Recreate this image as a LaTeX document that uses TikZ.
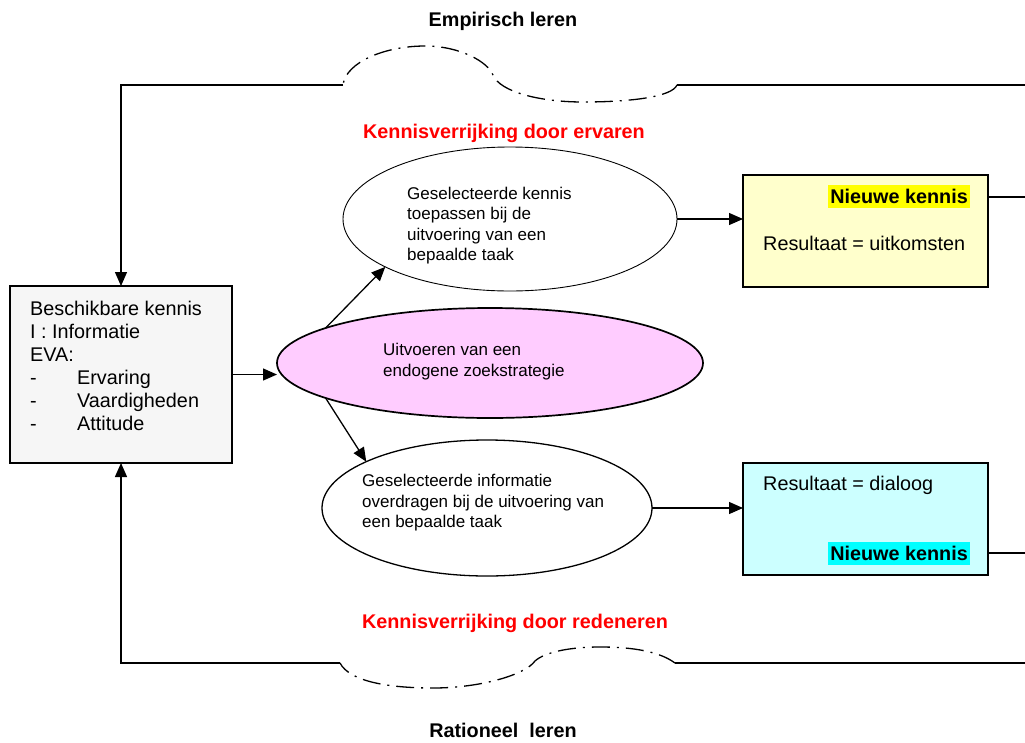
\documentclass[tikz,border=0pt]{standalone}
\usepackage{fontspec}
\setmainfont{Liberation Sans}
\definecolor{kgrijs}{HTML}{F6F6F6}
\definecolor{kroze}{HTML}{FFCCFF}
\definecolor{kgeel}{HTML}{FFFFCC}
\definecolor{kcyaan}{HTML}{CCFFFF}
\definecolor{kmarkgeel}{HTML}{FFFF00}
\definecolor{kmarkcyaan}{HTML}{00FFFF}
\definecolor{krood}{HTML}{FF0000}
\usetikzlibrary{positioning, arrows.meta, calc, shapes.geometric}

\begin{document}
\begin{tikzpicture}[x=1pt, y=-1pt,
    lijn/.style={line width=1.3pt},
    pijl/.style={lijn, -{Triangle[length=14pt, width=12pt]}},
    wolk/.style={line width=1.3pt, dash pattern=on 18pt off 7pt on 2pt off 7pt},
    blok/.style={draw, line width=1.3pt, rectangle, inner sep=0pt, outer sep=0pt},
    ovaal/.style={draw, ellipse, inner sep=0pt, outer sep=0pt},
    tekst/.style={font=\fontsize{19.8}{23}\selectfont, align=left, inner sep=0pt},
    klein/.style={font=\fontsize{17}{20.5}\selectfont, align=left, inner sep=0pt},
    kop/.style={font=\fontsize{19.8}{23}\selectfont\bfseries, inner sep=0pt},
    markeer/.style={kop, inner xsep=2pt, minimum height=23pt}]
    \useasboundingbox (0,0) rectangle (1025,742);

    % kennis links
    \node[blok, fill=kgrijs, minimum width=222pt, minimum height=177pt] (kennis) at (121,374.5) {};
    \node[tekst, anchor=west] (kennistekst) at (30,365.5) {Beschikbare kennis\\I : Informatie\\EVA:\\
        \makebox[47pt][l]{-}Ervaring\\\makebox[47pt][l]{-}Vaardigheden\\\makebox[47pt][l]{-}Attitude};

    % ellipsen
    \node[ovaal, fill=white, line width=0.9pt, minimum width=334pt, minimum height=144pt] (toepassen) at (510,219) {};
    \node[ovaal, fill=kroze, line width=1.7pt, minimum width=426pt, minimum height=110pt] (zoek) at (490,363) {};
    \node[ovaal, fill=white, line width=1.3pt, minimum width=330pt, minimum height=136pt] (overdragen) at (487,508) {};
    \node[klein, anchor=west] (toepassentekst) at (407,225.5) {Geselecteerde kennis\\toepassen bij de\\uitvoering van een\\bepaalde taak};
    \node[klein, anchor=west] (zoektekst) at (383,361.5) {Uitvoeren van een\\endogene zoekstrategie};
    \node[klein, anchor=west] (overdragentekst) at (362,503) {Geselecteerde informatie\\overdragen bij de uitvoering van\\een bepaalde taak};

    % resultaten rechts
    \node[blok, fill=kgeel, minimum width=245pt, minimum height=112pt] (ervaren) at (865.5,231) {};
    \node[markeer, fill=kmarkgeel, anchor=east] (nieuwboven) at (970,196.5) {Nieuwe kennis};
    \node[tekst, anchor=west] (uitkomsten) at (763,243) {Resultaat = uitkomsten};
    \node[blok, fill=kcyaan, minimum width=245pt, minimum height=112pt] (redeneren) at (865.5,519) {};
    \node[tekst, anchor=west] (dialoog) at (763,485) {Resultaat = dialoog};
    \node[markeer, fill=kmarkcyaan, anchor=east] (nieuwonder) at (970,553) {Nieuwe kennis};

    % koppen
    \node[kop, anchor=base] (empirisch) at (503,26) {Empirisch leren};
    \node[kop, anchor=base, text=krood] (ervarenkop) at (504,138) {Kennisverrijking door ervaren};
    \node[kop, anchor=base, text=krood] (redenerenkop) at (515,628) {Kennisverrijking door redeneren};
    \node[kop, anchor=base] (rationeel) at (503,737) {Rationeel\ \ leren};

    % pijlen
    \draw[pijl] (kennis.east) -- (kennis.east -| zoek.west);
    \draw[pijl] (zoek.168) -- (toepassen.201);
    \draw[pijl] (zoek.192) -- (overdragen.159);
    \draw[pijl] (toepassen.east) -- (toepassen.east -| ervaren.west);
    \draw[pijl] (overdragen.east) -- (overdragen.east -| redeneren.west);

    % terugkoppeling boven
    \coordinate (bovenR) at (1025,85);
    \coordinate (wolkbovenR) at (677,85);
    \coordinate (wolkbovenL) at (343,85);
    \coordinate (bovenL) at (121,85);
    \coordinate (uitboven) at (1025,197);
    \draw[lijn] (ervaren.east |- uitboven) -- (uitboven);
    \draw[lijn] (bovenR) -- (wolkbovenR);
    \draw[wolk] (wolkbovenR) .. controls (672,97) and (630,102) .. (583,102)
        .. controls (540,102) and (500,92) .. (493,75)
        .. controls (488,62) and (460,46) .. (425,46)
        .. controls (385,46) and (346,62) .. (wolkbovenL);
    \draw[pijl] (wolkbovenL) -- (bovenL) -- (kennis.north);

    % terugkoppeling onder
    \coordinate (onderR) at (1025,663);
    \coordinate (wolkonderR) at (675,663);
    \coordinate (wolkonderL) at (340,663);
    \coordinate (onderL) at (121,663);
    \coordinate (uitonder) at (1025,553);
    \draw[lijn] (redeneren.east |- uitonder) -- (uitonder);
    \draw[lijn] (onderR) -- (wolkonderR);
    \draw[wolk] (wolkonderR) .. controls (660,652) and (635,647) .. (600,647)
        .. controls (570,647) and (545,652) .. (535,661)
        .. controls (525,675) and (480,688) .. (433,688)
        .. controls (390,688) and (350,682) .. (wolkonderL);
    \draw[pijl] (wolkonderL) -- (onderL) -- (kennis.south);
\end{tikzpicture}
\end{document}
